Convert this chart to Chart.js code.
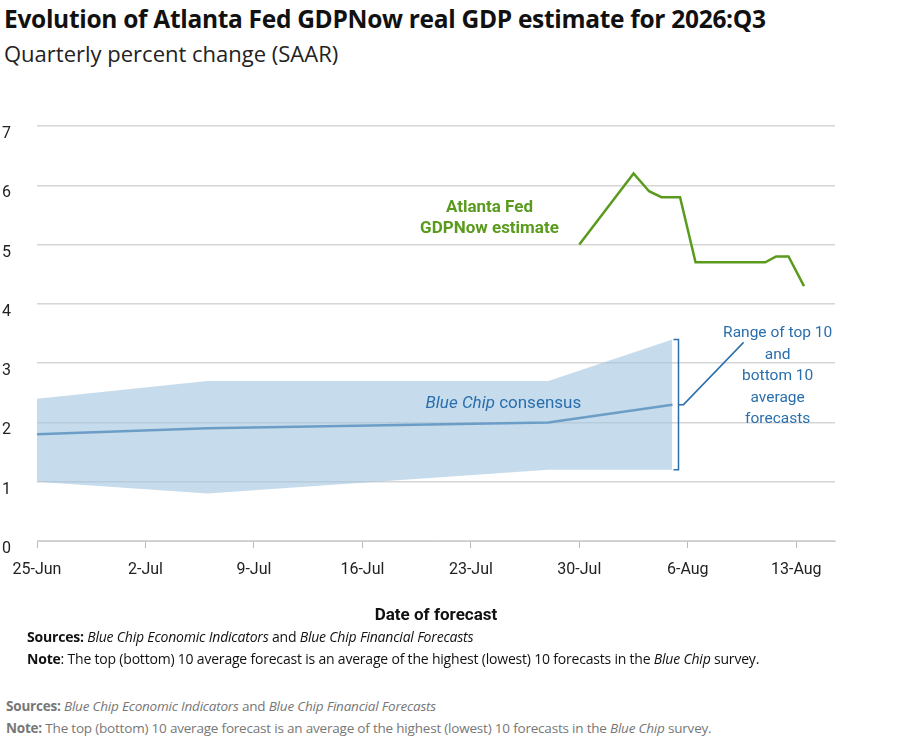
<!DOCTYPE html>
<html><head><meta charset="utf-8">
<script src="https://cdn.jsdelivr.net/npm/chart.js@4"></script>
<style>
body{margin:0;width:912px;height:746px;background:#fff;font-family:"Open Sans",Roboto,sans-serif;position:relative;overflow:hidden}
.t{position:absolute;left:4px;top:2px;font-size:24.5px;font-weight:bold;color:#111;letter-spacing:-0.3px}
.s{position:absolute;left:4px;top:38px;font-size:22px;color:#222}
#wrap{position:absolute;left:0;top:100px;width:912px;height:530px}
.n{position:absolute;left:27px;font-size:14px;color:#111;letter-spacing:-0.2px}
.g{position:absolute;left:6px;font-size:13.5px;color:#777;letter-spacing:-0.2px}
</style></head><body>
<div class="t">Evolution of Atlanta Fed GDPNow real GDP estimate for 2026:Q3</div>
<div class="s">Quarterly percent change (SAAR)</div>
<div id="wrap"><canvas id="c"></canvas></div>
<div class="n" style="top:627px"><b>Sources:</b> <i>Blue Chip Economic Indicators</i> and <i>Blue Chip Financial Forecasts</i></div>
<div class="n" style="top:649px"><b>Note</b>: The top (bottom) 10 average forecast is an average of the highest (lowest) 10 forecasts in the <i>Blue Chip</i> survey.</div>
<div class="g" style="top:697px"><b>Sources:</b> <i>Blue Chip Economic Indicators</i> and <i>Blue Chip Financial Forecasts</i></div>
<div class="g" style="top:719px"><b>Note:</b> The top (bottom) 10 average forecast is an average of the highest (lowest) 10 forecasts in the <i>Blue Chip</i> survey.</div>
<script>
// days since 25-Jun
const dateLabels = ['25-Jun','2-Jul','9-Jul','16-Jul','23-Jul','30-Jul','6-Aug','13-Aug'];
const gdpDays = [35, 38.5, 39.5, 40.3, 41.5, 42.5, 47, 47.7, 48.5, 49.5];
const gdpVals = [5.0, 6.2, 5.9, 5.8, 5.8, 4.7, 4.7, 4.8, 4.8, 4.3];
const bcDays = [0, 11, 33, 41];
const bcConsensus = [1.8, 1.9, 2.0, 2.3];
const bcTop = [2.4, 2.7, 2.7, 3.4];
const bcBottom = [1.0, 0.8, 1.2, 1.2];

const green = '#5a9b1e', blue = '#1f65a6';
const pts = (xs, ys) => xs.map((x, i) => ({ x: x, y: ys[i] }));

const notes = {
  id: 'notes',
  afterDatasetsDraw(chart) {
    const ctx = chart.ctx, xs = chart.scales.x, ys = chart.scales.y;
    ctx.save();
    ctx.textAlign = 'center';
    ctx.textBaseline = 'middle';
    ctx.fillStyle = green;
    ctx.font = 'bold 17px Roboto';
    ctx.fillText('Atlanta Fed', xs.getPixelForValue(29.2), ys.getPixelForValue(5.62));
    ctx.fillText('GDPNow estimate', xs.getPixelForValue(29.2), ys.getPixelForValue(5.27));

    // Blue Chip consensus label
    ctx.fillStyle = '#2a6fad';
    const lx = xs.getPixelForValue(30.1), ly = ys.getPixelForValue(2.32);
    ctx.font = 'italic 17px Roboto';
    const w1 = ctx.measureText('Blue Chip ').width;
    ctx.font = '17px Roboto';
    const w2 = ctx.measureText('consensus').width;
    ctx.textAlign = 'left';
    ctx.font = 'italic 17px Roboto';
    ctx.fillText('Blue Chip ', lx - (w1 + w2) / 2, ly);
    ctx.font = '17px Roboto';
    ctx.fillText('consensus', lx - (w1 + w2) / 2 + w1, ly);

    // bracket
    const bx = xs.getPixelForValue(41.4);
    const top = ys.getPixelForValue(3.4), bot = ys.getPixelForValue(1.2), mid = ys.getPixelForValue(2.3);
    ctx.strokeStyle = '#2a6fad';
    ctx.lineWidth = 1.5;
    ctx.beginPath();
    ctx.moveTo(bx - 5, top); ctx.lineTo(bx, top); ctx.lineTo(bx, bot); ctx.lineTo(bx - 5, bot);
    ctx.moveTo(bx, mid); ctx.lineTo(bx + 5, mid);
    ctx.lineTo(xs.getPixelForValue(45.6), ys.getPixelForValue(3.35));
    ctx.stroke();

    ctx.textAlign = 'center';
    ctx.font = '15.5px Roboto';
    const rx = xs.getPixelForValue(47.8);
    ['Range of top 10', 'and', 'bottom 10', 'average', 'forecasts'].forEach((s, i) => {
      ctx.fillText(s, rx, ys.getPixelForValue(3.5) + i * 21.5);
    });
    ctx.restore();
  }
};

new Chart(document.getElementById('c'), {
  type: 'line',
  data: {
    datasets: [
      { data: pts(bcDays, bcBottom), borderWidth: 0, pointRadius: 0, fill: false },
      { data: pts(bcDays, bcTop), borderWidth: 0, pointRadius: 0, fill: '-1', backgroundColor: 'rgba(160,195,222,0.6)' },
      { data: pts(bcDays, bcConsensus), borderColor: blue, borderWidth: 2.5, pointRadius: 0 },
      { data: pts(gdpDays, gdpVals), borderColor: green, borderWidth: 2.5, pointRadius: 0 }
    ]
  },
  options: {
    responsive: true, maintainAspectRatio: false, animation: false,
    layout: { padding: { top: 3, right: 77, left: 0, bottom: 0 } },
    plugins: { legend: { display: false }, tooltip: { enabled: false } },
    scales: {
      x: {
        type: 'linear', min: 0, max: 51.5,
        afterFit: s => { s.height = 89; },
        grid: { drawOnChartArea: false, drawTicks: true, tickLength: 7, color: '#bbb' },
        border: { color: '#ccc' },
        ticks: {
          stepSize: 7, includeBounds: false, maxRotation: 0, autoSkip: false,
          color: '#222', font: { family: 'Roboto', size: 16 }, padding: 12,
          callback: v => dateLabels[v / 7]
        },
        title: { display: true, text: 'Date of forecast', color: '#111', font: { family: 'Roboto', size: 17, weight: 'bold' }, padding: { top: 4 } }
      },
      y: {
        min: 0, max: 7,
        afterFit: s => { s.width = 37; },
        grid: { color: '#d6d6d6', drawTicks: false, lineWidth: 1.5 },
        border: { display: false },
        ticks: { stepSize: 1, color: '#222', font: { family: 'Roboto', size: 16 }, padding: 26, align: 'start' }
      }
    }
  },
  plugins: [notes]
});
</script>
</body></html>
